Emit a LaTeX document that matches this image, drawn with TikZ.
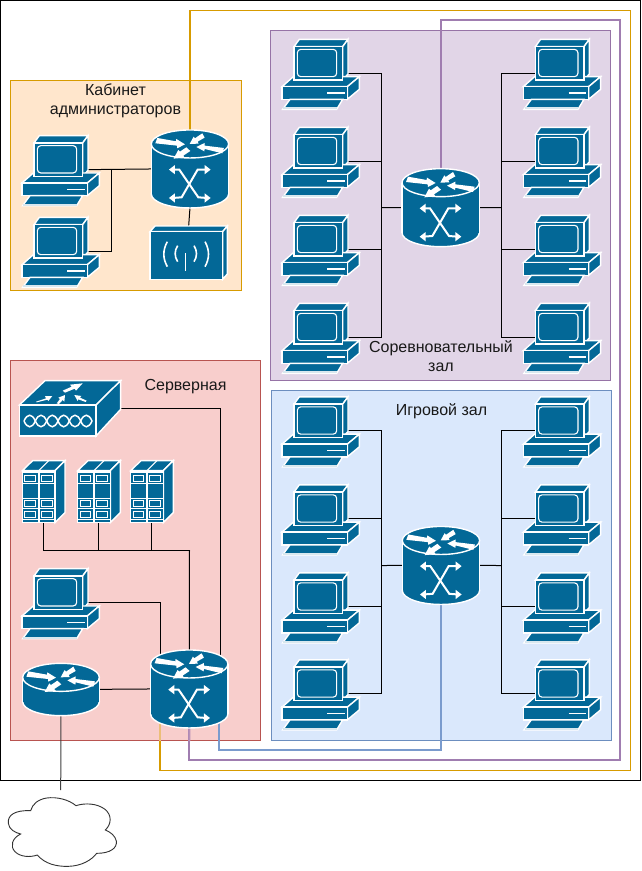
\documentclass[tikz,border=0pt]{standalone}
\usepackage{fontspec}
\setmainfont{Liberation Sans}
\usetikzlibrary{calc}
\pgfdeclarelayer{back}
\pgfdeclarelayer{mid}
\pgfsetlayers{back,mid,main}
\definecolor{dev}{HTML}{036897}
\definecolor{ofill}{HTML}{FFE6CC}\definecolor{ostroke}{HTML}{D79B00}
\definecolor{pfill}{HTML}{E1D5E7}\definecolor{pstroke}{HTML}{9673A6}
\definecolor{rfill}{HTML}{F8CECC}\definecolor{rstroke}{HTML}{B85450}
\definecolor{bfill}{HTML}{DAE8FC}\definecolor{bstroke}{HTML}{6C8EBF}
\definecolor{yline}{HTML}{D79B00}\definecolor{ypale}{HTML}{ECBE78}
\definecolor{pline}{HTML}{A07DB0}\definecolor{ppale}{HTML}{B892B8}
\definecolor{bline}{HTML}{7A9BCD}
\tikzset{
  x=1pt,y=-1pt,
  dv/.style={fill=dev,draw=white,line width=1.4pt,line join=miter},
  wh/.style={fill=white,draw=none},
  wl/.style={draw=white,line width=2pt},
  anch/.style={draw=none,inner sep=0pt,outer sep=0pt,minimum width=#1},
  conn/.style={draw=black,line width=1pt},
  lbl/.style={font=\fontsize{16}{18.5}\selectfont,align=center,text=black!90,inner sep=0pt},
  zone/.style={line width=1pt},
  trunkone/.style={draw=#1,line width=1.1pt},
  trunktwo/.style={draw=#1,line width=2pt},
}
\newcommand{\TopArrows}{%
  \fill[wh] (84,80)--(140,90)--(141,83)--(167,99)--(144,111)--(143,103)--(78,96)--cycle;
  \fill[wh] (219,66)--(226,79)--(205,91)--(208,97)--(181,98)--(193,76)--(197,81)--cycle;
  \fill[wh] (201,107)--(226,95)--(226,103)--(284,110)--(279,126)--(226,113)--(225,120)--cycle;
  \fill[wh] (171,108)--(183,119)--(162,133)--(166,139)--(133,142)--(147,116)--(152,121)--cycle;
}
\tikzset{
 pc/.pic={
  \begin{scope}[scale=1/3]
  \path[dv] (72,50)--(88,28)--(234,28)--(218,50)--cycle;
  \path[dv] (218,50)--(234,28)--(234,132)--(218,150)--cycle;
  \path[dv] (36,170)--(70,140)--(268,140)--(232,170)--cycle;
  \path[dv] (232,170)--(268,140)--(268,178)--(232,208)--cycle;
  \path[dv] (36,170) rectangle (232,208);
  \path[dv] (72,50) rectangle (218,150);
  \draw[white,line width=1.1pt,rounded corners=3.5pt] (82,58) rectangle (200,140);
  \draw[white,line width=1.6pt] (172,189)--(225,189);
  \path[dv] (38,238)--(60,208)--(218,208)--(200,238)--cycle;
  \fill[white!85!dev] (40,232) rectangle (200,238);
  \node[anch=54pt,minimum height=20pt] (-m) at (153,130) {};
  \end{scope}
 },
 sw/.pic={
  \begin{scope}[scale=1/3]
  \path[dv] (182,248) ellipse [x radius=116,y radius=42];
  \fill[dev] (66,98) rectangle (298,248);
  \draw[white,line width=1.4pt] (66,98)--(66,248) (298,98)--(298,248);
  \path[dv] (182,98) ellipse [x radius=116,y radius=42];
  \TopArrows
  \draw[wl] (130,175)--(150,175)--(207,258)--(232,260);
  \draw[wl] (130,260)--(157,258)--(205,175)--(232,175);
  \fill[wh] (119,175)--(137,161)--(137,189)--cycle;
  \fill[wh] (119,260)--(137,246)--(137,274)--cycle;
  \fill[wh] (244,175)--(226,161)--(226,189)--cycle;
  \fill[wh] (244,260)--(226,246)--(226,274)--cycle;
  \node[anch=77.3pt,minimum height=78pt] (-n) at (182,173) {};
  \end{scope}
 },
 rt/.pic={
  \begin{scope}[scale=1/3]
  \path[dv] (183,185) ellipse [x radius=115,y radius=42];
  \fill[dev] (68,112) rectangle (298,185);
  \draw[white,line width=1.4pt] (68,112)--(68,185) (298,112)--(298,185);
  \path[dv] (183,112) ellipse [x radius=115,y radius=42];
  \begin{scope}[shift={(1,14)}]\TopArrows\end{scope}
  \node[anch=76.7pt,minimum height=53.3pt] (-n) at (183,148) {};
  \end{scope}
 },
 ap/.pic={
  \begin{scope}[scale=1/3]
  \path[dv] (420,455)--(435,438)--(652,438)--(638,455)--cycle;
  \path[dv] (638,455)--(652,438)--(652,582)--(638,598)--cycle;
  \path[dv] (420,455) rectangle (638,598);
  \draw[white,line width=1.6pt] (472,485) .. controls (458,510) and (458,535) .. (472,560);
  \draw[white,line width=1.6pt] (503,497) .. controls (493,512) and (493,530) .. (503,545);
  \draw[white,line width=1.6pt] (552,497) .. controls (562,512) and (562,530) .. (552,545);
  \draw[white,line width=1.6pt] (585,485) .. controls (599,510) and (599,535) .. (585,560);
  \draw[white,line width=1pt] (527,520)--(527,572);
  \node[anch=77.3pt,minimum height=53.3pt] (-n) at (536,518) {};
  \end{scope}
 },
 rack/.pic={
  \begin{scope}[scale=1/3]
  \path[dv] (37,302)--(68,272)--(165,272)--(135,302)--cycle;
  \draw[white,line width=1pt] (86,302)--(116,272);
  \path[dv] (135,302)--(165,272)--(165,428)--(135,458)--cycle;
  \foreach \c in {37,87}{
    \path[dv] (\c,302) rectangle ++(48,156);
    \fill[white] (\c,302) rectangle ++(48,8);
    \fill[white] (\c,340) rectangle ++(48,3);
    \fill[white] (\c,384) rectangle ++(48,3);
    \fill[white] (\c,415) rectangle ++(48,3);
    \fill[white] (\c,448) rectangle ++(48,3);
    \foreach \y in {317,392,425}{
      \draw[white,line width=1pt,fill=dev] ($(\c,\y)+(8,0)$) rectangle ++(32,17);
    }
  }
  \node[anch=30pt,minimum height=52pt] (-n) at (100,380) {};
  \end{scope}
 },
 fw/.pic={
  \begin{scope}[scale=1/3]
  \path[dv] (28,105)--(105,32)--(332,32)--(258,105)--cycle;
  \path[dv] (258,105)--(332,32)--(332,118)--(258,198)--cycle;
  \path[dv] (28,105) rectangle (258,198);
  \fill[wh] (158,62)--(185,50)--(180,44)--(218,40)--(198,62)--(194,56)--(165,68)--cycle;
  \fill[wh] (78,95)--(108,85)--(105,78)--(127,78)--(115,93)--(112,89)--(80,97)--cycle;
  \fill[wh] (140,100)--(150,87)--(145,83)--(165,75)--(163,95)--(158,90)--(147,102)--cycle;
  \fill[wh] (193,75)--(214,78)--(210,83)--(230,92)--(227,96)--(205,88)--(203,93)--cycle;
  \foreach \x in {42,76,110,144,178,212}{
    \draw[white,line width=1.5pt] (\x,153) .. controls ($(\x,153)+(10,-23)$) and ($(\x,153)+(24,-23)$) .. ($(\x,153)+(34,0)$)
       .. controls ($(\x,153)+(24,23)$) and ($(\x,153)+(10,23)$) .. (\x,153);
  }
  \node[anch=101.3pt,minimum height=50pt] (-n) at (180,115) {};
  \end{scope}
 },
 cloudshape/.pic={
  \begin{scope}[scale=1/3]
  \draw[draw=black!80,fill=white,line width=.9pt]
    (92,512) .. controls (45,510) and (22,525) .. (25,550)
    .. controls (27,568) and (45,578) .. (62,582)
    .. controls (35,595) and (30,620) .. (45,635)
    .. controls (62,652) and (92,652) .. (112,645)
    .. controls (135,672) and (170,680) .. (205,679)
    .. controls (245,678) and (275,660) .. (290,640)
    .. controls (330,640) and (352,625) .. (349,603)
    .. controls (346,588) and (332,576) .. (316,570)
    .. controls (335,552) and (336,525) .. (315,508)
    .. controls (292,490) and (255,488) .. (228,497)
    .. controls (205,478) and (170,470) .. (140,474)
    .. controls (115,478) and (97,492) .. (92,512) -- cycle;
  \node[anch=108pt,minimum height=68pt] (-n) at (187,576) {};
  \end{scope}
 },
}
\begin{document}
\begin{tikzpicture}
\useasboundingbox (0,0) rectangle (641,871);
% zones
\begin{pgfonlayer}{back}
\fill[white] (0,0) rectangle (641,871);
\draw[black,line width=1.1pt] (.5,.5) rectangle (640.5,780.5);
\draw[zone,fill=ofill,draw=ostroke] (10,80.5) rectangle (241,290.5);
\draw[zone,fill=pfill,draw=pstroke] (270.5,30.5) rectangle (610.5,380.5);
\draw[zone,fill=rfill,draw=rstroke] (10,360.5) rectangle (260.5,740.5);
\draw[zone,fill=bfill,draw=bstroke] (271.5,390.5) rectangle (611.5,740.5);
\end{pgfonlayer}
% devices
\pic (a1) at (10,126.3) {pc};
\pic (a2) at (10,208) {pc};
\pic (as) at (129.3,111.3) {sw};
\pic (ap) at (10,80) {ap};
\pic (ps) at (380,150) {sw};
\pic (bs) at (380.3,507.8) {sw};
\pic (ss) at (128.6,631.3) {sw};
\pic (rt) at (0,640) {rt};
\pic (fw) at (10,370) {fw};
\pic (r1) at (10,370) {rack};
\pic (r2) at (65.3,370) {rack};
\pic (r3) at (118.3,370) {rack};
\pic (sp) at (10,559.3) {pc};
\pic (cl) at (0,640) {cloudshape};
\foreach \i/\y in {1/30,2/118,3/206,4/294}{
  \pic (pl\i) at (270,\y) {pc};
  \pic (pr\i) at (511.3,\y) {pc};
}
\foreach \i/\y in {1/387.5,2/475.5,3/563.5,4/650.5}{
  \pic (bl\i) at (270,\y) {pc};
  \pic (br\i) at (511.3,\y) {pc};
}
% junctions
\coordinate (aj) at (111.7,169);
\coordinate (plj) at (381.5,207.7);
\coordinate (prj) at (501.5,207.7);
\coordinate (blj) at (381.5,565.5);
\coordinate (brj) at (501.5,565.5);
\coordinate (fwc) at (220.5,656);
\coordinate (sbus) at (189.5,550.5);
\coordinate (spc) at (160,655);
\coordinate (inet) at (60.7,790);
\coordinate (ytr) at (630.5,10.5);
\coordinate (ybr) at (630.5,770.5);
\coordinate (ye) at (160,722);
\coordinate (ymid) at (160,741);
\coordinate (ptr) at (620,20);
\coordinate (pbr) at (620,760);
\coordinate (pmid) at (189.3,741);
\coordinate (bc) at (219,750);
\coordinate (be) at (219,722);
\begin{pgfonlayer}{mid}
\draw[conn] (a1-m.east) -- (as-n.west);
\draw[conn] (a2-m.east) -| (aj);
\draw[conn] (as-n.south) -- (ap-n.north);
\foreach \i in {1,2,3,4}{
  \draw[conn] (pl\i-m.east) -| (plj);
  \draw[conn] (pr\i-m.west) -| (prj);
  \draw[conn] (bl\i-m.east) -| (blj);
  \draw[conn] (br\i-m.west) -| (brj);
}
\draw[conn] (plj) -- (ps-n.west);
\draw[conn] (prj) -- (ps-n.east);
\draw[conn] (blj) -- (bs-n.west);
\draw[conn] (brj) -- (bs-n.east);
\draw[conn] (fw-n.east) -| (fwc);
\foreach \r in {r1,r2,r3}{\draw[conn] (\r-n.south) |- (sbus);}
\draw[conn] (sbus) -- (ss-n.north);
\draw[conn] (sp-m.east) -| (spc);
\draw[conn] (rt-n.east) -- (ss-n.west);
\draw[conn,black!75] (rt-n.south) -- (inet);
% trunks
\draw[trunkone=yline] (as-n.north) |- (ytr) -- (ybr) -| (ye);
\draw[trunkone=ypale] (ymid) -- (ye);
\draw[trunktwo=pline] (ps-n.north) |- (ptr) -- (pbr) -| (ss-n.south);
\draw[trunktwo=ppale] (pmid) -- (ss-n.south);
\draw[trunktwo=bline] (bs-n.south) |- (bc) -- (be);
\end{pgfonlayer}
% labels
\node[lbl] (t1) at (115.5,101) {Кабинет\\администраторов};
\node[lbl] (t2) at (185.5,387) {Серверная};
\node[lbl] (t3) at (441,356) {Соревновательный\\зал};
\node[lbl] (t4) at (441.5,411) {Игровой зал};
\end{tikzpicture}
\end{document}
